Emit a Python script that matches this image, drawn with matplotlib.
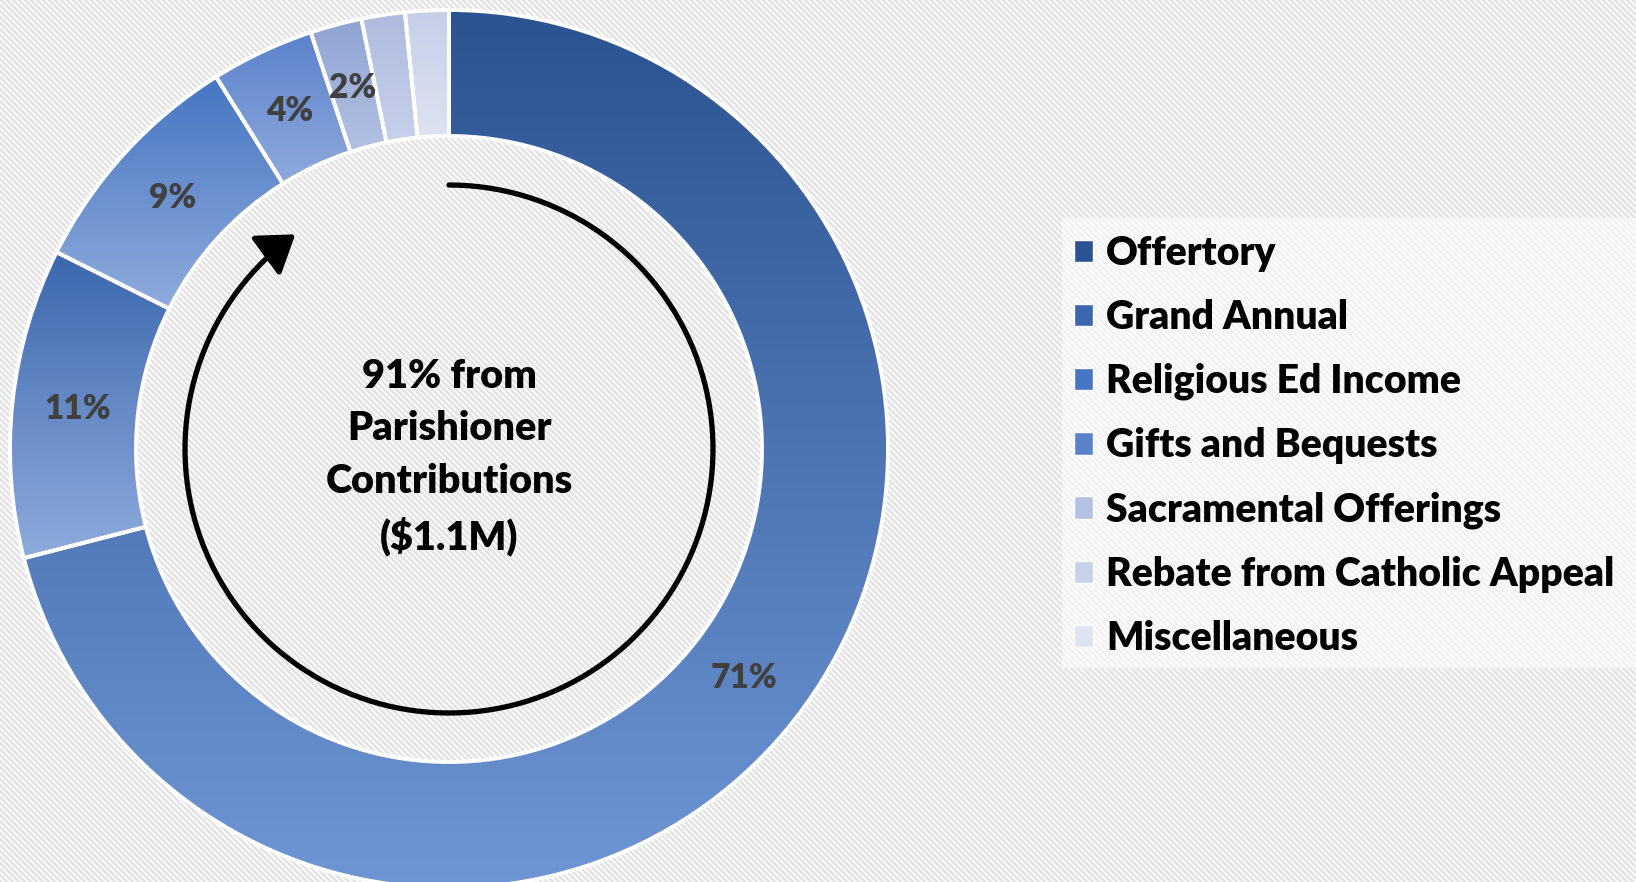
import numpy as np
import matplotlib
matplotlib.use("Agg")
import matplotlib.pyplot as plt
from matplotlib.colors import LinearSegmentedColormap
from matplotlib.patches import Patch, FancyArrowPatch, Rectangle
from matplotlib.path import Path

# Gelir kalemleri (yüzde)
categories = ["Offertory", "Grand Annual", "Religious Ed Income", "Gifts and Bequests",
              "Sacramental Offerings", "Rebate from Catholic Appeal", "Miscellaneous"]
shares = [71.0, 11.4, 8.7, 3.8, 1.9, 1.6, 1.6]
center_text = "91% from\nParishioner\nContributions\n($1.1M)"

# dilim renkleri: üst -> alt degrade
top_colors = ["#2c5391", "#3b67ae", "#4676c2", "#5a82cb", "#8fa3d3", "#aebbdf", "#c6cfe8"]
bottom_colors = ["#6f96d4", "#8eabdc", "#8fabdc", "#8faadc", "#b3c1e3", "#c8d1ea", "#dde3f1"]

W, H = 1636, 882
FONT = ["Lato", "DejaVu Sans"]
WEIGHT = 800

fig = plt.figure(figsize=(W / 100, H / 100), dpi=100)
ax = fig.add_axes([0, 0, 1, 1])
ax.set_xlim(0, W)
ax.set_ylim(0, H)
ax.axis("off")

# çizgili arka plan
rows, cols = np.mgrid[0:H, 0:W]
stripes = ((cols - rows) % 6) < 3
bg = np.where(stripes, 0.89, 0.97)
ax.imshow(bg, cmap="gray", vmin=0, vmax=1, extent=[0, W, 0, H], origin="upper",
          interpolation="nearest", aspect="auto", zorder=0)

cx, cy = 449, 433
r_out, r_in = 439, 313

wedges, _, pct_texts = ax.pie(
    shares, radius=r_out, center=(cx, cy), startangle=90, counterclock=False,
    autopct=lambda p: f"{p:.0f}%" if p >= 1.8 else "",
    pctdistance=0.85,
    wedgeprops=dict(width=r_out - r_in, edgecolor="white", linewidth=2.8),
    textprops=dict(color="#404040", fontsize=24, fontweight=WEIGHT, family=FONT),
)
ax.set_aspect("auto")

grad = np.linspace(0, 1, 256).reshape(-1, 1)
for w, c_top, c_bot in zip(wedges, top_colors, bottom_colors):
    ext = w.get_path().get_extents()
    cmap = LinearSegmentedColormap.from_list("g", [c_top, c_bot])
    im = ax.imshow(grad, cmap=cmap, extent=[ext.x0, ext.x1, ext.y0, ext.y1],
                   origin="upper", aspect="auto", zorder=1)
    im.set_clip_path(w)
    w.set_facecolor("none")
    w.set_zorder(2)
for t in pct_texts:
    t.set_zorder(3)

ax.set_xlim(0, W)
ax.set_ylim(0, H)

# dairesel ok
r_arc = 264
theta = np.radians(np.linspace(90, 125.6 - 360, 300))
verts = np.column_stack([cx + r_arc * np.cos(theta), cy + r_arc * np.sin(theta)])
arrow = FancyArrowPatch(path=Path(verts), arrowstyle="-|>,head_length=1.1,head_width=0.75",
                        mutation_scale=20, lw=3.8, color="black", zorder=3)
ax.add_patch(arrow)

ax.text(cx, 425, center_text, ha="center", va="center", fontsize=28.5,
        fontweight=WEIGHT, family=FONT, linespacing=1.52, zorder=3)

# lejant
ax.add_patch(Rectangle((1062, H - 668), W - 1062, 450, facecolor="white",
                       edgecolor="none", alpha=0.5, zorder=1))
handles = [Patch(facecolor=c1, edgecolor="white", linewidth=1)
           for c1 in top_colors[:4] + bottom_colors[4:]]
leg = ax.legend(handles, categories, loc="upper left", bbox_to_anchor=(1066, H - 227),
                bbox_transform=ax.transData, frameon=False,
                prop=dict(family=FONT, weight=WEIGHT, size=28.2),
                handlelength=0.49, handleheight=0.49, handletextpad=0.34,
                labelspacing=0.69, borderaxespad=0, borderpad=0.2)
leg.set_zorder(4)

fig.savefig("out.png", dpi=100)
